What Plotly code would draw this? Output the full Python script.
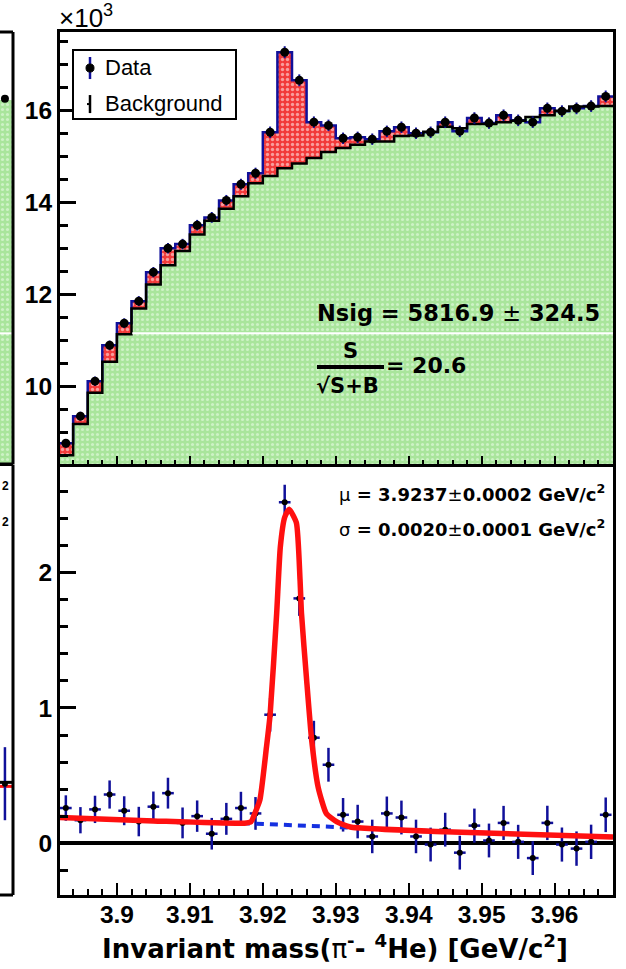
import plotly.graph_objects as go

# ---------------- data (values in units of 10^3 counts) ----------------
mass_centers = [3.893, 3.895, 3.897, 3.899, 3.901, 3.903, 3.905, 3.907, 3.909, 3.911,
                3.913, 3.915, 3.917, 3.919, 3.921, 3.923, 3.925, 3.927, 3.929, 3.931,
                3.933, 3.935, 3.937, 3.939, 3.941, 3.943, 3.945, 3.947, 3.949, 3.951,
                3.953, 3.955, 3.957, 3.959, 3.961, 3.963, 3.965, 3.967]
data_k = [8.76, 9.35, 10.11, 10.89, 11.37, 11.85, 12.48, 13.00, 13.09, 13.50,
          13.67, 14.04, 14.39, 14.63, 15.52, 17.26, 16.65, 15.74, 15.67, 15.39,
          15.41, 15.37, 15.54, 15.63, 15.50, 15.52, 15.74, 15.54, 15.83, 15.72,
          15.89, 15.78, 15.74, 16.04, 15.98, 16.04, 16.09, 16.30]
bkg_k = [8.50, 9.18, 9.86, 10.53, 11.13, 11.69, 12.21, 12.63, 12.94, 13.30,
         13.60, 13.86, 14.13, 14.41, 14.57, 14.74, 14.84, 14.96, 15.09, 15.18,
         15.25, 15.32, 15.32, 15.44, 15.45, 15.53, 15.64, 15.61, 15.70, 15.70,
         15.74, 15.77, 15.85, 15.89, 15.99, 16.08, 16.08, 16.09]
err_k = [0.094, 0.097, 0.101, 0.104, 0.107, 0.109, 0.112, 0.114, 0.114, 0.116,
         0.117, 0.118, 0.120, 0.121, 0.125, 0.131, 0.129, 0.125, 0.125, 0.124,
         0.124, 0.124, 0.125, 0.125, 0.124, 0.125, 0.125, 0.125, 0.126, 0.125,
         0.126, 0.126, 0.125, 0.127, 0.126, 0.127, 0.127, 0.128]

# fitted curves
fit_mass = [3.8922, 3.9050, 3.9175, 3.9184, 3.9189, 3.9196, 3.9205, 3.9210, 3.9219,
            3.9224, 3.9230, 3.9236, 3.9246, 3.9251, 3.9253, 3.9260, 3.9267, 3.9276,
            3.9287, 3.9301, 3.9320, 3.9450, 3.9680]
fit_total = [0.19, 0.165, 0.148, 0.16, 0.22, 0.32, 0.71, 0.95, 1.70,
             2.19, 2.41, 2.47, 2.37, 1.95, 1.70, 1.21, 0.76, 0.41,
             0.22, 0.16, 0.12, 0.085, 0.045]
bkgfit_mass = [3.8922, 3.9050, 3.9175, 3.9240, 3.9300, 3.9450, 3.9680]
bkgfit_vals = [0.19, 0.165, 0.148, 0.135, 0.12, 0.085, 0.045]

x_tick_vals = [3.90, 3.91, 3.92, 3.93, 3.94, 3.95, 3.96]
x_tick_text = ["3.9", "3.91", "3.92", "3.93", "3.94", "3.95", "3.96"]
ytop_tick_vals = [10, 12, 14, 16]
ybot_tick_vals = [0, 1, 2]

# neighbouring (cropped) panel on the far left
side_top_level = [16.22]
side_top_point = [16.25]
side_bot_point = [0.44]
side_bot_err = [0.27]
side_bot_fit = [0.42]
side_bot_zero = [0.45]

bin_w = 0.002
resid = [round(d - b, 3) for d, b in zip(data_k, bkg_k)]
step_x = [c - bin_w / 2 for c in mass_centers] + [mass_centers[-1] + bin_w / 2]
step_data = data_k + [data_k[-1]]
step_bkg = bkg_k + [bkg_k[-1]]

# ---------------- geometry ----------------
W, H = 626, 969
ML, MR, MT, MB = 0, 13, 32, 74
PW, PH = W - ML - MR, H - MT - MB


def px_x(px):
    return (px - ML) / PW


def px_y(py):
    return (H - MB - py) / PH


X_DOM = [px_x(60), 1.0]
SIDE_DOM = [0.0, px_x(13)]
BOT_DOM = [0.0, px_y(464.5)]
TOP_DOM = [px_y(464.0), 1.0]
XR = [3.8922, 3.968]
YTOP = [8.31, 17.70]
YBOT = [-0.383, 2.80]

BLUE = "#10109a"
RED = "#ff1010"
TICKFONT = dict(family="Liberation Sans", size=24.5, color="black")
LATEX = "DejaVu Sans"


def bold(s):
    return "<b>%s</b>" % s


green_pat = dict(shape=".", bgcolor="#a9e59c", fgcolor="#f2fff0", size=5, solidity=0.3)
red_pat = dict(shape=".", bgcolor="#f23a3a", fgcolor="#ffffff", size=5, solidity=0.35)

fig = go.Figure()

# ---- top panel ----
fig.add_trace(go.Scatter(x=step_x, y=step_data, xaxis="x2", yaxis="y2", mode="lines",
                         line=dict(width=0, shape="hv"), fill="tozeroy",
                         fillpattern=red_pat, fillcolor="#f23a3a", hoverinfo="skip"))
fig.add_trace(go.Scatter(x=step_x, y=step_bkg, xaxis="x2", yaxis="y2", mode="lines",
                         line=dict(width=0, shape="hv"), fill="tozeroy",
                         fillpattern=green_pat, fillcolor="#a9e59c", hoverinfo="skip"))
fig.add_trace(go.Scatter(x=step_x, y=step_data, xaxis="x2", yaxis="y2", mode="lines",
                         line=dict(width=2.5, color=BLUE, shape="hv")))
fig.add_trace(go.Scatter(x=step_x, y=step_bkg, xaxis="x2", yaxis="y2", mode="lines",
                         line=dict(width=2.5, color="black", shape="hv")))
fig.add_trace(go.Scatter(x=mass_centers, y=data_k, xaxis="x2", yaxis="y2", mode="markers",
                         marker=dict(size=9, color="black"),
                         error_y=dict(type="data", array=err_k, color=BLUE, thickness=2, width=0)))

# ---- bottom panel ----
fig.add_trace(go.Scatter(x=mass_centers, y=resid, xaxis="x", yaxis="y", mode="markers",
                         marker=dict(size=6, color="black"),
                         error_y=dict(type="data", array=err_k, color=BLUE, thickness=2.5, width=0),
                         error_x=dict(type="constant", value=0.0008, color=BLUE, thickness=2.5, width=0)))
fig.add_trace(go.Scatter(x=bkgfit_mass, y=bkgfit_vals, xaxis="x", yaxis="y", mode="lines",
                         line=dict(width=4, color="#1530e0", dash="8px,6px")))
fig.add_trace(go.Scatter(x=fit_mass, y=fit_total, xaxis="x", yaxis="y", mode="lines",
                         line=dict(width=5.5, color=RED, shape="spline", smoothing=0.5)))

# ---- neighbouring cropped panel ----
fig.add_trace(go.Scatter(x=[0, 1], y=side_top_level * 2, xaxis="x3", yaxis="y3", mode="lines",
                         line=dict(width=0), fill="tozeroy", fillpattern=green_pat,
                         fillcolor="#a9e59c"))
fig.add_trace(go.Scatter(x=[0.38], y=side_top_point, xaxis="x3", yaxis="y3", mode="markers",
                         marker=dict(size=8, color="black")))
fig.add_trace(go.Scatter(x=[0, 1], y=side_bot_zero * 2, xaxis="x4", yaxis="y4", mode="lines",
                         line=dict(width=3, color="black")))
fig.add_trace(go.Scatter(x=[0, 1], y=side_bot_fit * 2, xaxis="x4", yaxis="y4", mode="lines",
                         line=dict(width=3, color=RED)))
fig.add_trace(go.Scatter(x=[0.38], y=side_bot_point, xaxis="x4", yaxis="y4", mode="markers",
                         marker=dict(size=6, color="black"),
                         error_y=dict(type="data", array=side_bot_err, color=BLUE, thickness=2.5, width=0)))

axis_common = dict(showgrid=False, zeroline=False, showline=True, linecolor="black",
                   linewidth=3, mirror=True, ticks="inside", tickcolor="black")

shapes = []
# white artefact line across the green area
shapes.append(dict(type="line", xref="x2", yref="y2", x0=3.9021, x1=3.968, y0=11.15, y1=11.15,
                   line=dict(color="white", width=2), layer="above"))
shapes.append(dict(type="line", xref="x3 domain", yref="y3", x0=0, x1=0.95, y0=11.15, y1=11.15,
                   line=dict(color="white", width=2), layer="above"))
# neighbour frame
for xr, yr in (("x3 domain", "y3 domain"), ("x4 domain", "y4 domain")):
    shapes.append(dict(type="line", xref=xr, yref=yr, x0=1, x1=1, y0=0, y1=1,
                       line=dict(color="black", width=3)))
    shapes.append(dict(type="line", xref=xr, yref=yr, x0=0, x1=1, y0=1, y1=1,
                       line=dict(color="black", width=3)))
    shapes.append(dict(type="line", xref=xr, yref=yr, x0=0, x1=1, y0=0, y1=0,
                       line=dict(color="black", width=3)))


# legend box (domain coords of top panel)
def dx(px):
    return (px - 60) / 553.0


def dy(py):
    return 1 - (py - 32) / 431.6


shapes.append(dict(type="rect", xref="x2 domain", yref="y2 domain", x0=dx(73), x1=dx(236),
                   y0=dy(119), y1=dy(50), line=dict(color="black", width=2),
                   fillcolor="white", layer="above"))
shapes.append(dict(type="line", xref="x2 domain", yref="y2 domain", x0=dx(90), x1=dx(90),
                   y0=dy(79), y1=dy(57), line=dict(color=BLUE, width=2.5), layer="above"))
shapes.append(dict(type="circle", xref="x2 domain", yref="y2 domain", x0=dx(86), x1=dx(94),
                   y0=dy(72), y1=dy(64), line=dict(color="black", width=1),
                   fillcolor="black", layer="above"))
shapes.append(dict(type="line", xref="x2 domain", yref="y2 domain", x0=dx(90), x1=dx(90),
                   y0=dy(113), y1=dy(95), line=dict(color="black", width=2.5), layer="above"))
shapes.append(dict(type="line", xref="x2 domain", yref="y2 domain", x0=dx(87), x1=dx(90),
                   y0=dy(104), y1=dy(104), line=dict(color="black", width=2), layer="above"))
# fraction bar
shapes.append(dict(type="line", xref="paper", yref="paper", x0=px_x(317), x1=px_x(384),
                   y0=px_y(367), y1=px_y(367), line=dict(color="black", width=4), layer="above"))

ann = []


def text(px, py, s, size, family="Liberation Sans", xanchor="left"):
    ann.append(dict(x=px_x(px), y=px_y(py), xref="paper", yref="paper", text=s,
                    showarrow=False, xanchor=xanchor, yanchor="middle",
                    font=dict(family=family, size=size, color="black")))


text(57, 17, "×10<sup>3</sup>", 26)
text(103, 68, "Data", 22)
text(103, 103, "Background", 22)
text(315, 313, "<b>Nsig = 5816.9 </b>±<b> 324.5</b>", 22.5, family=LATEX)
text(350, 351, "<b>S</b>", 21, family=LATEX, xanchor="center")
text(314, 386, "<b>√S+B</b>", 21, family=LATEX)
text(384, 366, "<b>= 20.6</b>", 22, family=LATEX)
text(607, 493, "μ<b> = 3.9237</b>±<b>0.0002 GeV/c<sup>2</sup></b>", 18, family=LATEX, xanchor="right")
text(607, 528, "σ<b> = 0.0020</b>±<b>0.0001 GeV/c<sup>2</sup></b>", 18, family=LATEX, xanchor="right")
text(335, 947, "<b>Invariant mass(</b>π<b><sup>-</sup>- <sup>4</sup>He) [GeV/c<sup>2</sup>]</b>", 26,
     family=LATEX, xanchor="center")
text(0, 486, "<b>2</b>", 12)
text(0, 522, "<b>2</b>", 12)

fig.update_layout(
    width=W, height=H, margin=dict(l=ML, r=MR, t=MT, b=MB),
    paper_bgcolor="white", plot_bgcolor="white", showlegend=False,
    xaxis=dict(axis_common, domain=X_DOM, anchor="y", range=XR, tickmode="array",
               tickvals=x_tick_vals, ticktext=[bold(t) for t in x_tick_text],
               ticklen=12, tickwidth=2, tickfont=TICKFONT, ticklabelstandoff=-4,
               minor=dict(tickmode="linear", tick0=3.892, dtick=0.002, ticks="inside",
                          ticklen=6, tickwidth=2, tickcolor="black")),
    yaxis=dict(axis_common, domain=BOT_DOM, anchor="x", range=YBOT, tickmode="array",
               tickvals=ybot_tick_vals, ticktext=[bold(v) for v in ybot_tick_vals],
               ticklen=16, tickwidth=2.5, tickfont=TICKFONT, ticklabelstandoff=0,
               zeroline=True, zerolinecolor="black", zerolinewidth=3.5,
               minor=dict(tickmode="linear", tick0=0, dtick=0.2, ticks="inside",
                          ticklen=8, tickwidth=2.5, tickcolor="black")),
    xaxis2=dict(axis_common, domain=X_DOM, anchor="y2", range=XR, matches="x",
                showticklabels=False, tickmode="array", tickvals=x_tick_vals,
                ticklen=8, tickwidth=1.5,
                minor=dict(tickmode="linear", tick0=3.892, dtick=0.002, ticks="inside",
                           ticklen=4, tickwidth=1.5, tickcolor="black")),
    yaxis2=dict(axis_common, domain=TOP_DOM, anchor="x2", range=YTOP, tickmode="array",
                tickvals=ytop_tick_vals, ticktext=[bold(v) for v in ytop_tick_vals],
                ticklen=16, tickwidth=2.5, tickfont=TICKFONT, ticklabelstandoff=0,
                minor=dict(tickmode="linear", tick0=0, dtick=0.5, ticks="inside",
                           ticklen=8, tickwidth=2.5, tickcolor="black")),
    xaxis3=dict(domain=SIDE_DOM, anchor="y3", range=[0, 1], visible=False),
    yaxis3=dict(domain=TOP_DOM, anchor="x3", range=YTOP, visible=False),
    xaxis4=dict(domain=SIDE_DOM, anchor="y4", range=[0, 1], visible=False),
    yaxis4=dict(domain=BOT_DOM, anchor="x4", range=YBOT, visible=False),
    shapes=shapes, annotations=ann,
)

fig.write_html("out.html", config={"displayModeBar": False},
               post_script="document.body.style.margin='0px';")
